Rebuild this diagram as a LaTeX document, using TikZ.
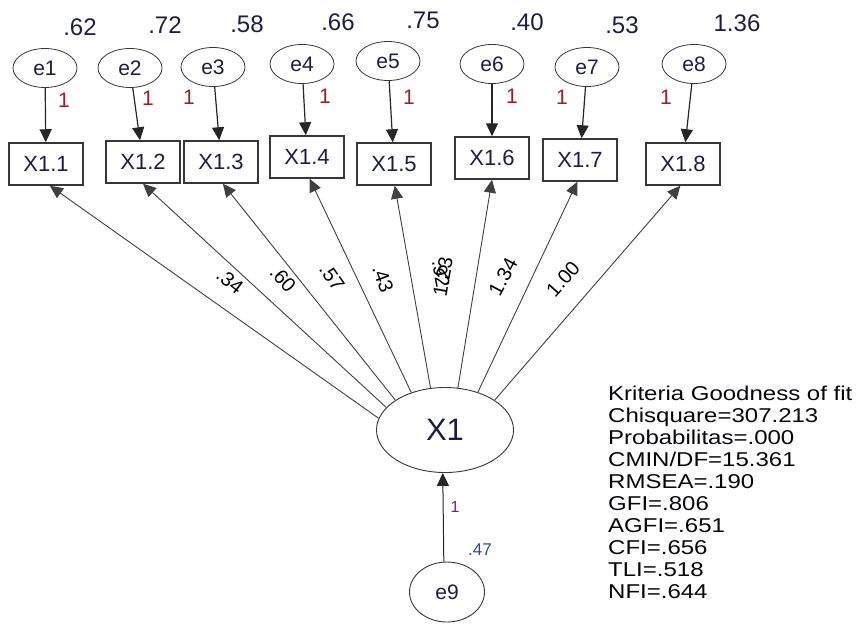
\documentclass[tikz,border=0pt]{standalone}
\usepackage{fontspec}
\setmainfont{Liberation Sans}
\newfontfamily\widefont[FakeStretch=1.2]{Liberation Sans}
\usetikzlibrary{arrows.meta,shapes.geometric}
\definecolor{navytxt}{RGB}{30,28,70}
\definecolor{onered}{RGB}{160,30,35}
\definecolor{onepurple}{RGB}{130,20,140}
\definecolor{varblue}{RGB}{45,75,150}
\definecolor{edgegray}{RGB}{55,55,55}

\begin{document}
\begin{tikzpicture}[x=1pt,y=-1pt,
  obsbox/.style={draw=edgegray, line width=1.5pt, minimum width=74pt, minimum height=42pt,
    inner sep=0pt, text=navytxt, font=\fontsize{22}{24}\selectfont},
  errell/.style={ellipse, draw=edgegray, line width=0.8pt, minimum width=64pt,
    minimum height=39pt, inner sep=0pt, text=navytxt, font=\fontsize{21}{23}\selectfont},
  latell/.style={ellipse, draw=edgegray, line width=0.9pt, inner sep=0pt, text=navytxt},
  varlbl/.style={text=navytxt, inner sep=0pt, font=\fontsize{24}{26}\selectfont},
  onelbl/.style={text=onered, inner sep=0pt, font=\fontsize{21}{23}\selectfont},
  loadlbl/.style={text=black, inner sep=0pt, font=\fontsize{20}{22}\selectfont},
  errarrow/.style={draw=black!85, line width=1.2pt, -{Triangle[length=13pt,width=12pt]}},
  loadarrow/.style={draw=black!75, line width=0.9pt, -{Triangle[length=13pt,width=12pt]}}
]
\useasboundingbox (0,0) rectangle (856,627);

% observed indicators
\node[obsbox] (b1) at (46,164) {X1.1};
\node[obsbox] (b2) at (143,162) {X1.2};
\node[obsbox] (b3) at (221,162) {X1.3};
\node[obsbox] (b4) at (307,157) {X1.4};
\node[obsbox] (b5) at (394,164) {X1.5};
\node[obsbox] (b6) at (492,158) {X1.6};
\node[obsbox] (b7) at (580,160) {X1.7};
\node[obsbox] (b8) at (683,164) {X1.8};

% measurement errors
\node[errell] (e1) at (45,68) {e1};
\node[errell] (e2) at (130,68) {e2};
\node[errell] (e3) at (213,67) {e3};
\node[errell] (e4) at (302,64) {e4};
\node[errell] (e5) at (388,61) {e5};
\node[errell] (e6) at (492,64) {e6};
\node[errell] (e7) at (587,67) {e7};
\node[errell] (e8) at (694,64) {e8};

% error variances
\node[varlbl] (v1) at (80,27) {.62};
\node[varlbl] (v2) at (165,25) {.72};
\node[varlbl] (v3) at (247,24) {.58};
\node[varlbl] (v4) at (338,22) {.66};
\node[varlbl] (v5) at (423,20) {.75};
\node[varlbl] (v6) at (527,22) {.40};
\node[varlbl] (v7) at (622,25) {.53};
\node[varlbl] (v8) at (737,23) {1.36};

% error paths fixed to 1
\draw[errarrow] (e1) -- (b1);
\draw[errarrow] (e2) -- (b2);
\draw[errarrow] (e3) -- (b3);
\draw[errarrow] (e4) -- (b4);
\draw[errarrow] (e5) -- (b5);
\draw[errarrow] (e6) -- (b6);
\draw[errarrow] (e7) -- (b7);
\draw[errarrow] (e8) -- (b8);
\node[onelbl] (o1) at (64,100) {1};
\node[onelbl] (o2) at (148,98) {1};
\node[onelbl] (o3) at (189,97) {1};
\node[onelbl] (o4) at (325,96) {1};
\node[onelbl] (o5) at (409,97) {1};
\node[onelbl] (o6) at (512,96) {1};
\node[onelbl] (o7) at (562,97) {1};
\node[onelbl] (o8) at (666,97) {1};

% latent construct
\node[latell, minimum width=137pt, minimum height=85pt, font=\fontsize{31}{33}\selectfont] (X1) at (445,430) {X1};
\node[latell, minimum width=75pt, minimum height=60pt, font=\fontsize{21}{23}\selectfont] (e9) at (447,592) {e9};
\draw[errarrow, line width=1pt] (e9.96) -- (X1.-93);
\node[text=onepurple, inner sep=0pt, font=\fontsize{16}{18}\selectfont] (o9) at (455,507) {1};
\node[text=varblue, inner sep=0pt, font=\fontsize{17}{19}\selectfont] (v9) at (480,550) {.47};

% factor loadings
\draw[loadarrow] (X1.170) -- (b1.-80);
\draw[loadarrow] (X1.159.6) -- (b2.-90);
\draw[loadarrow] (X1.149) -- (b3.-85);
\draw[loadarrow] (X1.132.6) -- (b4.-83);
\draw[loadarrow] (X1.109) -- (b5.-88);
\draw[loadarrow] (X1.73) -- (b6.-90);
\draw[loadarrow] (X1.49) -- (b7.-97);
\draw[loadarrow] (X1.31) -- (b8.-97);
\node[loadlbl, rotate=-38] (l1) at (230,281) {.34};
\node[loadlbl, rotate=-48] (l2) at (283,279) {.60};
\node[loadlbl, rotate=-55] (l3) at (332,277) {.57};
\node[loadlbl, rotate=-70] (l4) at (383,279) {.43};
\node[loadlbl, rotate=80] (l5a) at (443,277) {1.23};
\node[loadlbl, rotate=-80] (l5b) at (441,274) {.92};
\node[loadlbl, rotate=62] (l6) at (503,277) {1.34};
\node[loadlbl, rotate=48] (l7) at (563,279) {1.00};

% fit summary
\node[anchor=north west, align=left, inner sep=0pt, text=black!85!navytxt,
  font=\widefont\fontsize{20}{22}\selectfont] (fit) at (608,385.5) {%
Kriteria Goodness of fit\\
Chisquare=307.213\\
Probabilitas=.000\\
CMIN/DF=15.361\\
RMSEA=.190\\
GFI=.806\\
AGFI=.651\\
CFI=.656\\
TLI=.518\\
NFI=.644};
\end{tikzpicture}
\end{document}
